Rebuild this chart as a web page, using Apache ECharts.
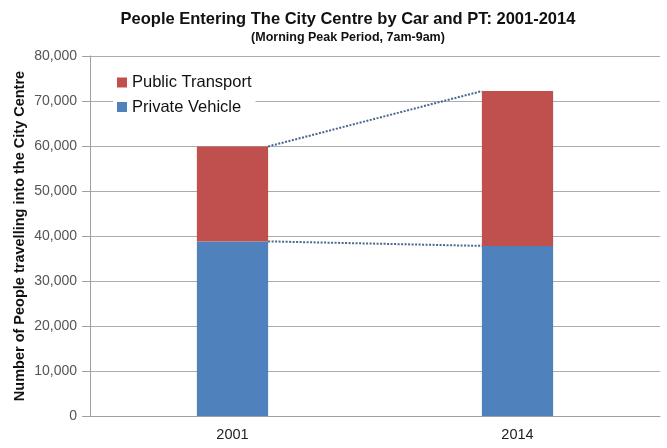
<!DOCTYPE html>
<html><head><meta charset="utf-8">
<script src="https://cdn.jsdelivr.net/npm/echarts@6/dist/echarts.min.js"></script>
<style>html,body{margin:0;padding:0;background:#fff}#c{width:667px;height:448px}</style>
</head><body><div id="c"></div>
<script>
const categories = ['2001', '2014'];
const privateVehicle = [38800, 37800];
const publicTransport = [21100, 34400];
const yTicks = [0, 10000, 20000, 30000, 40000, 50000, 60000, 70000, 80000];
const totals = categories.map((c, i) => privateVehicle[i] + publicTransport[i]);
const barHalf = 0.125; // half bar width as fraction of category

const chart = echarts.init(document.getElementById('c'));
const fmt = v => v === 0 ? '0' : v.toLocaleString('en-US');
chart.setOption({
  animation: false,
  backgroundColor: '#fff',
  title: {
    text: 'People Entering The City Centre by Car and PT: 2001-2014',
    subtext: '(Morning Peak Period, 7am-9am)',
    left: 343, textAlign: 'center', top: 6, itemGap: 3,
    textStyle: {fontFamily: 'Liberation Sans', fontSize: 16.5, fontWeight: 'bold', color: '#111'},
    subtextStyle: {fontFamily: 'Liberation Sans', fontSize: 12.5, fontWeight: 'bold', color: '#111'}
  },
  legend: {
    orient: 'vertical', left: 113, top: 70, itemGap: 7.5,
    itemWidth: 10, itemHeight: 10, icon: 'rect',
    backgroundColor: '#fff', padding: [4, 4, 4, 4],
    data: ['Public Transport', 'Private Vehicle'],
    textStyle: {fontFamily: 'Liberation Sans', fontSize: 16.5, color: '#111'}
  },
  grid: {left: 90, right: 7, top: 56, bottom: 32, containLabel: false, outerBoundsMode: 'none'},
  xAxis: [{
    type: 'category', data: categories,
    axisLine: {lineStyle: {color: '#a0a0a0'}},
    axisTick: {show: false},
    axisLabel: {fontFamily: 'Liberation Sans', fontSize: 14.5, color: '#222', margin: 11}
  }, {
    type: 'value', min: -0.5, max: 1.5, show: false
  }],
  yAxis: {
    type: 'value', min: 0, max: 80000, interval: 10000,
    name: 'Number of People travelling into the City Centre',
    nameLocation: 'middle', nameGap: 63, nameRotate: 90, nameMoveOverlap: false,
    nameTextStyle: {fontFamily: 'Liberation Sans', fontSize: 14.5, fontWeight: 'bold', color: '#111'},
    axisLine: {show: true, onZero: false, lineStyle: {color: '#a0a0a0'}},
    axisTick: {show: true, length: 8, lineStyle: {color: '#a0a0a0'}},
    splitLine: {lineStyle: {color: '#ababab'}},
    axisLabel: {fontFamily: 'Liberation Sans', fontSize: 14, color: '#555', margin: 13, formatter: fmt}
  },
  series: [
    {name: 'Private Vehicle', type: 'bar', stack: 's', data: privateVehicle, barWidth: '25%',
      itemStyle: {color: '#4F81BD'}},
    {name: 'Public Transport', type: 'bar', stack: 's', data: publicTransport, barWidth: '25%',
      itemStyle: {color: '#C0504D'}},
    {name: 'linkTotal', type: 'line', xAxisIndex: 1, symbol: 'none',
      data: [[0 + barHalf, totals[0]], [1 - barHalf, totals[1]]],
      lineStyle: {color: '#46688e', width: 2, type: [2, 1.5]}, z: 5},
    {name: 'linkPrivate', type: 'line', xAxisIndex: 1, symbol: 'none',
      data: [[0 + barHalf, privateVehicle[0]], [1 - barHalf, privateVehicle[1]]],
      lineStyle: {color: '#46688e', width: 2, type: [2, 1.5]}, z: 5}
  ]
});
</script></body></html>
